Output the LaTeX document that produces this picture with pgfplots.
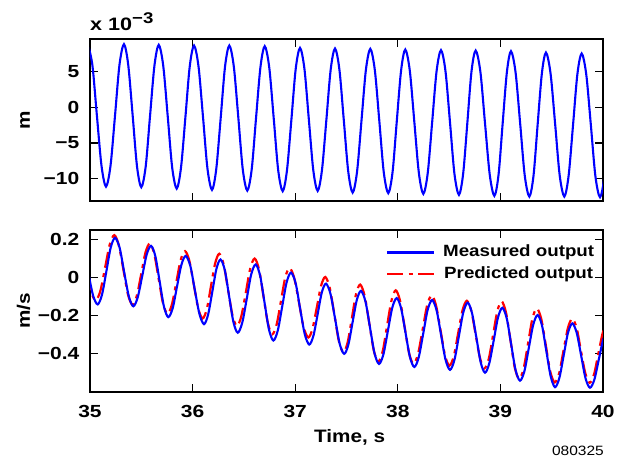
\documentclass[border=0pt]{standalone}
\usepackage{graphicx}
\usepackage{fontspec}
\setmainfont{Liberation Sans}
\usepackage{pgfplots}
\usepackage{pgfplotstable}
\pgfplotsset{compat=1.18}
\newcommand{\W}[1]{\scalebox{1.15}[1]{#1}}
\newcommand{\T}[1]{\scalebox{1.2}[1]{#1}}

\pgfplotstableread{
t v
34.978 8.90
35.023 5.97
35.067 -1.11
35.112 -8.19
35.156 -11.12
35.200 -8.19
35.244 -1.13
35.287 5.94
35.331 8.87
35.373 5.93
35.416 -1.17
35.458 -8.26
35.500 -11.20
35.543 -8.28
35.585 -1.22
35.628 5.85
35.670 8.77
35.714 5.82
35.758 -1.32
35.801 -8.45
35.845 -11.40
35.887 -8.46
35.930 -1.36
35.972 5.74
36.014 8.68
36.058 5.71
36.102 -1.45
36.145 -8.61
36.189 -11.58
36.231 -8.61
36.274 -1.45
36.316 5.71
36.358 8.68
36.402 5.70
36.446 -1.50
36.489 -8.70
36.533 -11.68
36.576 -8.71
36.618 -1.55
36.661 5.62
36.703 8.59
36.747 5.61
36.791 -1.59
36.834 -8.78
36.878 -11.76
36.920 -8.82
36.963 -1.71
37.005 5.41
37.047 8.35
37.090 5.41
37.133 -1.69
37.176 -8.78
37.219 -11.72
37.261 -8.79
37.304 -1.73
37.346 5.33
37.388 8.26
37.431 5.30
37.474 -1.85
37.517 -9.00
37.560 -11.96
37.603 -9.01
37.646 -1.88
37.689 5.26
37.732 8.21
37.776 5.25
37.820 -1.92
37.863 -9.08
37.907 -12.04
37.949 -9.09
37.990 -1.96
38.032 5.17
38.073 8.12
38.117 5.15
38.161 -2.01
38.205 -9.17
38.249 -12.14
38.292 -9.19
38.335 -2.06
38.378 5.08
38.421 8.03
38.465 5.06
38.509 -2.13
38.552 -9.31
38.596 -12.28
38.637 -9.31
38.678 -2.15
38.718 5.01
38.759 7.98
38.805 4.99
38.850 -2.22
38.896 -9.43
38.941 -12.42
38.982 -9.45
39.022 -2.27
39.063 4.92
39.103 7.89
39.148 4.90
39.193 -2.32
39.237 -9.53
39.282 -12.52
39.323 -9.56
39.363 -2.41
39.404 4.74
39.444 7.70
39.489 4.74
39.534 -2.41
39.578 -9.56
39.623 -12.52
39.665 -9.58
39.708 -2.48
39.750 4.62
39.792 7.56
39.837 4.61
39.882 -2.53
39.926 -9.66
39.971 -12.61
40.014 -9.67
40.057 -2.58
}\position

\pgfplotstableread{
t v
34.903 0.154
34.946 0.111
34.989 0.007
35.032 -0.098
35.075 -0.141
35.117 -0.090
35.160 0.034
35.202 0.158
35.244 0.209
35.289 0.156
35.333 0.029
35.378 -0.098
35.422 -0.151
35.465 -0.104
35.509 0.008
35.552 0.120
35.595 0.167
35.637 0.112
35.679 -0.021
35.721 -0.153
35.763 -0.208
35.806 -0.161
35.848 -0.047
35.891 0.067
35.933 0.114
35.978 0.061
36.022 -0.066
36.067 -0.192
36.111 -0.245
36.151 -0.195
36.192 -0.075
36.232 0.045
36.272 0.095
36.314 0.039
36.356 -0.098
36.398 -0.234
36.440 -0.290
36.484 -0.237
36.528 -0.111
36.571 0.016
36.615 0.069
36.658 0.010
36.701 -0.131
36.744 -0.272
36.787 -0.331
36.830 -0.279
36.873 -0.153
36.916 -0.026
36.959 0.026
37.004 -0.029
37.048 -0.163
37.093 -0.297
37.137 -0.352
37.178 -0.305
37.219 -0.192
37.259 -0.079
37.300 -0.032
37.344 -0.086
37.389 -0.217
37.433 -0.347
37.477 -0.401
37.518 -0.353
37.559 -0.236
37.600 -0.119
37.641 -0.070
37.685 -0.126
37.729 -0.262
37.773 -0.398
37.817 -0.454
37.860 -0.403
37.903 -0.281
37.946 -0.159
37.989 -0.108
38.032 -0.161
38.075 -0.289
38.118 -0.417
38.161 -0.470
38.204 -0.419
38.248 -0.294
38.291 -0.170
38.334 -0.118
38.378 -0.172
38.422 -0.302
38.465 -0.431
38.509 -0.485
38.552 -0.433
38.595 -0.309
38.638 -0.184
38.681 -0.132
38.723 -0.186
38.766 -0.316
38.808 -0.446
38.850 -0.500
38.892 -0.450
38.935 -0.330
38.977 -0.209
39.019 -0.159
39.062 -0.215
39.105 -0.351
39.148 -0.486
39.191 -0.542
39.234 -0.492
39.277 -0.370
39.320 -0.248
39.363 -0.197
39.406 -0.253
39.448 -0.387
39.491 -0.521
39.533 -0.576
39.575 -0.527
39.617 -0.409
39.659 -0.290
39.701 -0.241
39.744 -0.291
39.787 -0.410
39.830 -0.530
39.873 -0.579
39.916 -0.536
39.959 -0.431
40.002 -0.326
40.045 -0.283
}\measured

\pgfplotstableread{
t v
34.885 0.170
34.928 0.128
34.971 0.025
35.013 -0.078
35.056 -0.120
35.101 -0.070
35.147 0.052
35.192 0.173
35.237 0.223
35.281 0.169
35.326 0.040
35.370 -0.089
35.414 -0.143
35.456 -0.096
35.499 0.018
35.541 0.132
35.583 0.179
35.626 0.125
35.669 -0.006
35.712 -0.136
35.755 -0.190
35.798 -0.142
35.841 -0.026
35.883 0.091
35.926 0.139
35.969 0.087
36.012 -0.038
36.055 -0.163
36.098 -0.215
36.139 -0.165
36.179 -0.045
36.220 0.075
36.260 0.125
36.303 0.069
36.346 -0.065
36.389 -0.199
36.432 -0.255
36.475 -0.203
36.519 -0.078
36.562 0.048
36.605 0.100
36.648 0.042
36.691 -0.099
36.734 -0.240
36.777 -0.298
36.819 -0.247
36.861 -0.124
36.903 0.000
36.945 0.051
36.991 -0.003
37.037 -0.132
37.082 -0.261
37.128 -0.315
37.169 -0.268
37.211 -0.156
37.252 -0.044
37.293 0.003
37.337 -0.055
37.382 -0.195
37.426 -0.335
37.470 -0.393
37.511 -0.341
37.552 -0.215
37.592 -0.089
37.633 -0.037
37.677 -0.096
37.722 -0.240
37.766 -0.383
37.810 -0.442
37.853 -0.387
37.895 -0.255
37.938 -0.122
37.980 -0.067
38.023 -0.124
38.067 -0.261
38.110 -0.397
38.153 -0.454
38.197 -0.401
38.242 -0.274
38.286 -0.146
38.330 -0.093
38.373 -0.147
38.417 -0.278
38.460 -0.409
38.503 -0.463
38.546 -0.413
38.588 -0.293
38.631 -0.172
38.673 -0.122
38.716 -0.174
38.759 -0.300
38.802 -0.425
38.845 -0.477
38.887 -0.426
38.929 -0.301
38.970 -0.177
39.012 -0.125
39.055 -0.185
39.098 -0.329
39.140 -0.473
39.183 -0.533
39.226 -0.479
39.269 -0.348
39.312 -0.216
39.355 -0.162
39.399 -0.219
39.443 -0.357
39.486 -0.494
39.530 -0.551
39.573 -0.502
39.615 -0.384
39.658 -0.265
39.700 -0.216
39.743 -0.265
39.785 -0.385
39.828 -0.504
39.870 -0.553
39.913 -0.508
39.955 -0.399
39.998 -0.290
40.040 -0.245
}\predicted

\pgfplotsset{
  myaxis/.style={
    scale only axis,
    width=513pt, height=161.7pt,
    xmin=35, xmax=40,
    axis line style={line width=1.6pt, black},
    every tick/.style={black, line width=1.3pt},
    major tick length=8pt,
    tick align=inside,
    xtick pos=both, ytick pos=both,
    tick label style={font=\fontsize{17.5}{20}\selectfont\bfseries},
    yticklabel style={inner sep=0pt, xshift=-10.5pt},
    xticklabel style={inner sep=0pt, yshift=-13.3pt},
    ylabel style={at={(axis description cs:-0.117,0.5)}, anchor=base,
      font=\fontsize{18}{20}\selectfont\bfseries},
  },
}

\begin{document}
\begin{tikzpicture}
\useasboundingbox (0pt,0pt) rectangle (621pt,-461pt);

\begin{axis}[myaxis,
  at={(90pt,-39pt)}, anchor=north west,
  ymin=-13.1, ymax=9.6,
  xtick={36,37,38,39}, xticklabels={},
  ytick={-10,-5,0,5},
  yticklabels={\T{−10},\T{−5},\T{0},\T{5}},
  ylabel={\W{m}},
]
\addplot[blue, line width=2.1pt, smooth] table[x=t, y=v] {\position};
\end{axis}

\begin{axis}[myaxis,
  at={(90pt,-230pt)}, anchor=north west,
  ymin=-0.6, ymax=0.25,
  xtick={35,36,37,38,39,40},
  xticklabels={\T{35},\T{36},\T{37},\T{38},\T{39},\T{40}},
  ytick={-0.4,-0.2,0,0.2},
  yticklabels={\T{−0.4},\T{−0.2},\T{0},\T{0.2}},
  ylabel={\W{m/s}},
  xlabel={\W{Time, s}},
  xlabel style={at={(axis description cs:0.506,-0.317)}, anchor=base,
    font=\fontsize{18}{20}\selectfont\bfseries},
  legend image code/.code={\draw[#1] (0pt,0pt) -- (47pt,0pt); \path (55pt,0pt);},
  legend style={draw=none, fill=none, inner sep=0pt, outer sep=0pt,
    at={(axis description cs:0.577,0.909)}, anchor=north west,
    row sep=6pt,
    nodes={inner sep=0pt, text height=12pt, text depth=3.6pt},
    font=\fontsize{16.3}{19}\selectfont\bfseries},
]
\addplot[red, line width=2.2pt, smooth, dash pattern=on 16pt off 5.5pt on 4pt off 5.5pt, forget plot] table[x=t, y=v] {\predicted};
\addplot[blue, line width=2.1pt, smooth, forget plot] table[x=t, y=v] {\measured};
\addlegendimage{blue, line width=2.1pt}
\addlegendentry{\W{Measured output}}
\addlegendimage{red, line width=2.2pt, dash pattern=on 16pt off 5.5pt on 4pt off 5.5pt}
\addlegendentry{\W{Predicted output}}
\end{axis}

\node[anchor=base west, inner sep=0pt, font=\fontsize{18}{20}\selectfont\bfseries]
  at (90pt,-30pt) {\scalebox{1.2}[1]{x 10}\raisebox{7pt}{\fontsize{15.5}{17}\selectfont\scalebox{1.2}[1]{−3}}};
\node[anchor=base east, inner sep=0pt, font=\fontsize{13.5}{15}\selectfont]
  at (604pt,-455pt) {\W{080325}};
\end{tikzpicture}
\end{document}
